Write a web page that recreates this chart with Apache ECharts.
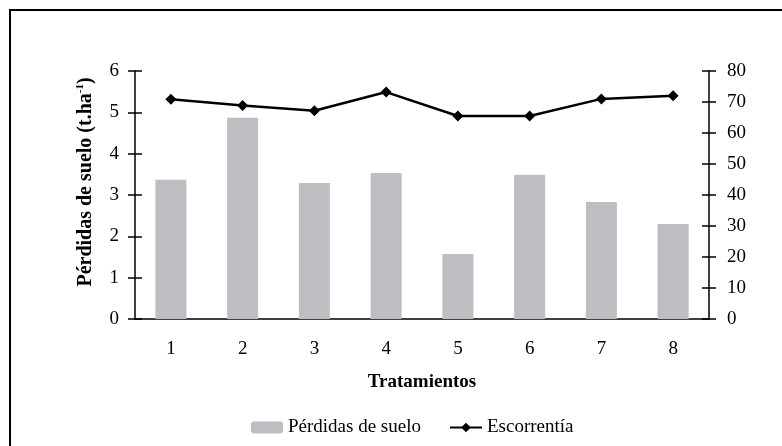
<!DOCTYPE html>
<html>
<head>
<meta charset="utf-8">
<script src="https://cdn.jsdelivr.net/npm/echarts@6/dist/echarts.min.js"></script>
<style>
  html, body { margin: 0; padding: 0; background: #fff; }
  #chart { width: 782px; height: 446px; }
</style>
</head>
<body>
<div id="chart"></div>
<script>
// datos
const tratamientos = ["1", "2", "3", "4", "5", "6", "7", "8"];
const perdidasSuelo = [3.37, 4.87, 3.29, 3.53, 1.57, 3.49, 2.83, 2.30]; // t.ha-1
const escorrentia = [70.9, 68.9, 67.2, 73.2, 65.5, 65.5, 71.0, 72.0];   // eje derecho

const fuente = "Liberation Serif";
const txt = { fontFamily: fuente, fontSize: 19, color: "#000" };

const chart = echarts.init(document.getElementById("chart"));

// eje base, las marcas cruzan la línea del eje (copia con ticks hacia dentro)
function ejeY(pos, min, max, step, extra) {
  return Object.assign({
    type: "value",
    position: pos,
    min: min,
    max: max,
    interval: step,
    splitLine: { show: false },
    axisLine: { show: true, lineStyle: { color: "#000", width: 1.5 } },
    axisTick: { show: true, length: 7, lineStyle: { color: "#000", width: 1.5 } },
    axisLabel: Object.assign({ margin: 16 }, txt),
  }, extra || {});
}

const option = {
  animation: false,
  backgroundColor: "#fff",
  grid: { left: 135, right: 73, top: 71, bottom: 127 },
  graphic: [
    {
      type: "rect",
      shape: { x: 10, y: 10, width: 820, height: 500 },
      style: { fill: "none", stroke: "#000", lineWidth: 2 },
    },
  ],
  legend: {
    left: 246,
    top: 413,
    itemWidth: 32,
    itemHeight: 12,
    itemGap: 28,
    textStyle: { fontFamily: fuente, fontSize: 19, color: "#000" },
    data: ["Pérdidas de suelo", "Escorrentía"],
  },
  xAxis: [
    {
      type: "category",
      data: tratamientos,
      boundaryGap: true,
      name: "Tratamientos",
      nameLocation: "middle",
      nameGap: 54,
      nameTextStyle: Object.assign({}, txt, { fontWeight: "bold" }),
      axisLine: { lineStyle: { color: "#000", width: 1.5 } },
      axisTick: { length: 7, lineStyle: { color: "#000", width: 1.5 } },
      axisLabel: Object.assign({ margin: 21 }, txt),
    },
    {
      type: "category",
      data: tratamientos,
      position: "bottom",
      boundaryGap: true,
      axisLine: { show: false },
      axisTick: { inside: true, length: 6, lineStyle: { color: "#000", width: 1.5 } },
      axisLabel: { show: false },
    },
  ],
  yAxis: [
    ejeY("left", 0, 6, 1, {
      name: "{b|Pérdidas de suelo (t.ha}{s|-1}{b|)}",
      nameLocation: "middle",
      nameGap: 38,
      nameRotate: 90,
      nameTextStyle: {
        padding: [0, 0, 0, 26],
        rich: {
          b: { fontFamily: fuente, fontSize: 20, fontWeight: "bold", color: "#000", lineHeight: 22 },
          s: { fontFamily: fuente, fontSize: 11, fontWeight: "bold", color: "#000", verticalAlign: "top", lineHeight: 22 },
        },
      },
    }),
    ejeY("right", 0, 80, 10, { axisLabel: Object.assign({ margin: 18 }, txt) }),
    ejeY("left", 0, 6, 1, {
      axisLine: { show: false },
      axisTick: { show: true, inside: true, length: 7, lineStyle: { color: "#000", width: 1.5 } },
      axisLabel: { show: false },
    }),
    ejeY("right", 0, 80, 10, {
      axisLine: { show: false },
      axisTick: { show: true, inside: true, length: 7, lineStyle: { color: "#000", width: 1.5 } },
      axisLabel: { show: false },
    }),
  ],
  series: [
    {
      name: "Pérdidas de suelo",
      type: "bar",
      xAxisIndex: 0,
      yAxisIndex: 0,
      barWidth: 31,
      itemStyle: { color: "#bdbec2" },
      data: perdidasSuelo,
    },
    {
      name: "Escorrentía",
      type: "line",
      xAxisIndex: 0,
      yAxisIndex: 1,
      symbol: "diamond",
      symbolSize: 11,
      lineStyle: { color: "#000", width: 2.5 },
      itemStyle: { color: "#000" },
      data: escorrentia,
    },
  ],
};

chart.setOption(option);
</script>
</body>
</html>
